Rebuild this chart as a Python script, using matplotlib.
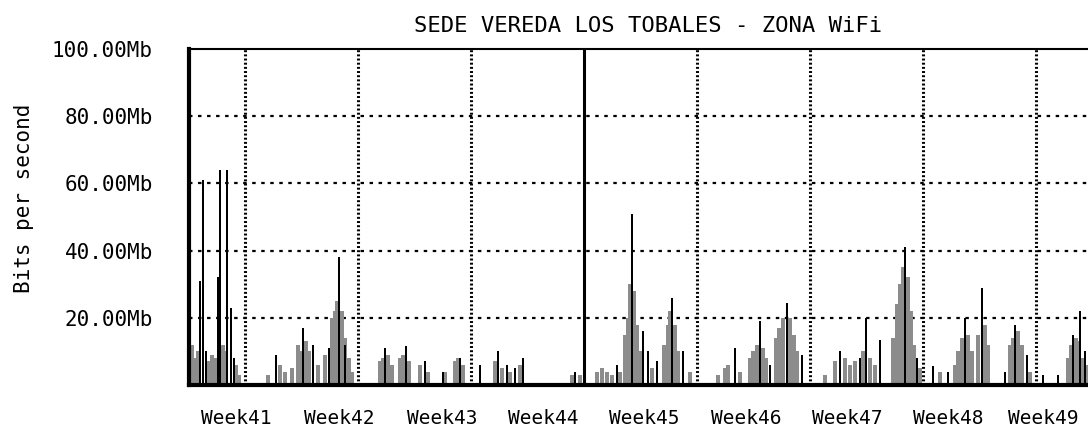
import matplotlib
matplotlib.use("Agg")
import matplotlib.pyplot as plt

# traffic in Mb/s, x in days from the left edge of the graph
grey_days = [0.19, 0.37, 0.56, 1.24, 1.43, 1.61, 2.11, 2.23, 2.91, 3.10,
             4.89, 5.64, 5.95, 6.38, 6.75, 6.88, 7.25, 7.43, 7.99, 8.43, 8.86, 9.05, 9.17, 9.48, 9.67, 9.91, 10.10,
             11.83, 12.02, 12.33, 12.58, 13.07, 13.26, 13.63, 14.31, 14.81, 15.86, 16.48, 16.67, 16.98,
             18.96, 19.39, 19.89, 20.51, 23.73, 24.23,
             25.28, 25.59, 25.90, 26.21, 26.70, 27.01, 27.20, 27.32, 27.57, 27.76, 27.94, 28.69, 29.43, 29.68, 29.80, 30.11, 30.30, 31.04,
             32.78, 33.21, 33.40, 34.14, 34.76, 34.94, 35.19, 35.56, 35.75, 36.37, 36.56, 36.80, 37.24, 37.48, 37.67,
             39.41, 40.02, 40.64, 40.95, 41.26, 41.76, 42.19, 42.50, 43.62, 43.87, 44.05, 44.24, 44.55, 44.73, 44.92, 45.29,
             46.53, 47.46, 47.65, 47.89, 48.27, 48.51, 48.88, 49.32, 49.50, 50.87, 51.05, 51.36, 51.61, 52.11,
             54.46, 54.65, 54.96, 55.14, 55.39, 55.64]
grey_mb = [12, 8, 10, 7, 9, 8, 12, 10, 6, 3,
           3, 6, 4, 5, 12, 10, 13, 10, 6, 9, 20, 22, 25, 22, 14, 8, 4,
           7, 8, 9, 6, 8, 9, 7, 6, 4, 4, 7, 8, 6,
           7, 5, 4, 6, 3, 3,
           4, 5, 4, 3, 4, 15, 20, 30, 28, 18, 10, 5, 12, 18, 22, 18, 10, 4,
           3, 5, 6, 4, 8, 10, 12, 11, 8, 14, 17, 20, 20, 15, 10,
           3, 7, 8, 6, 7, 10, 8, 6, 14, 24, 30, 35, 32, 22, 12, 5,
           4, 6, 10, 14, 15, 10, 15, 18, 12, 12, 14, 16, 12, 4,
           8, 12, 14, 13, 8, 6]

black_days = [0.68, 0.87, 1.05, 1.80, 1.92, 2.35, 2.60, 2.79,
              5.39, 7.06, 7.68, 8.67, 9.29, 9.67,
              12.14, 13.44, 14.62, 15.74, 16.79,
              18.03, 19.14, 19.70, 20.20, 20.69, 23.92,
              26.52, 27.45, 28.13, 28.44, 29.00, 29.93, 30.61,
              33.83, 35.38, 36.00, 37.05, 37.98,
              40.33, 41.57, 41.94, 42.81, 44.36, 45.11,
              46.10, 47.03, 48.08, 49.13, 50.56, 51.18, 51.92,
              52.91, 53.84, 54.77, 55.20, 55.51]
black_mb = [31, 61, 10, 32, 64, 64, 23, 8,
            9, 17, 12, 11, 38, 12,
            11, 11.5, 7, 4, 8,
            6, 10, 6, 5, 8, 4,
            6, 51, 16, 10, 7, 26, 10,
            11, 19, 6, 24.5, 9,
            10, 8, 20, 13.5, 41, 8,
            5.6, 4, 20, 29, 4, 18, 9,
            3, 3, 15, 22, 10]

grid_days = [3.47, 10.47, 17.47, 31.47, 38.47, 45.47, 52.47]
vrule_day = 24.47
week_label_days = [2.91, 9.29, 15.68, 21.93, 28.19, 34.51, 40.77, 47.03, 52.91]
week_labels = ["Week41", "Week42", "Week43", "Week44", "Week45", "Week46", "Week47", "Week48", "Week49"]
y_ticks = [20, 40, 60, 80, 100]
y_tick_labels = ["20.00Mb", "40.00Mb", "60.00Mb", "80.00Mb", "100.00Mb"]

plt.rcParams["font.family"] = "DejaVu Sans Mono"
plt.rcParams["lines.scale_dashes"] = False

fig = plt.figure(figsize=(10.88, 4.28), dpi=100)
ax = fig.add_axes([189 / 1088, 1 - 385 / 428, 1 - 189 / 1088, (385 - 49) / 428])

ax.bar(grey_days, grey_mb, width=0.28, color="#8c8c8c", linewidth=0, zorder=2)
ax.bar(black_days, black_mb, width=0.17, color="black", linewidth=0, zorder=3)

for yv in y_ticks[:-1]:
    ax.axhline(yv, color="black", lw=1.6, linestyle=(0, (2.5, 4)), zorder=1)
for d in grid_days:
    ax.axvline(d, color="black", lw=2.2, linestyle=(0, (1.4, 1.6)), zorder=1)
ax.axvline(vrule_day, color="black", lw=2.2, zorder=4)

ax.set_xlim(0, 55.7)
ax.set_ylim(0, 100)
ax.set_xticks(week_label_days, week_labels, fontsize=14)
ax.set_yticks(y_ticks, y_tick_labels, fontsize=15)
ax.tick_params(axis="both", length=0)
ax.tick_params(axis="x", pad=17)
ax.tick_params(axis="y", pad=26)

ax.spines["right"].set_visible(False)
ax.spines["left"].set_linewidth(3)
ax.spines["bottom"].set_linewidth(3)
ax.spines["top"].set_linewidth(1.5)

fig.text(648 / 1088, 1 - 26 / 428, "SEDE VEREDA LOS TOBALES - ZONA WiFi",
         ha="center", va="center", fontsize=16)
fig.text(24 / 1088, 1 - 198 / 428, "Bits per second", rotation=90,
         ha="center", va="center", fontsize=15)

fig.savefig("out.png", dpi=100)
